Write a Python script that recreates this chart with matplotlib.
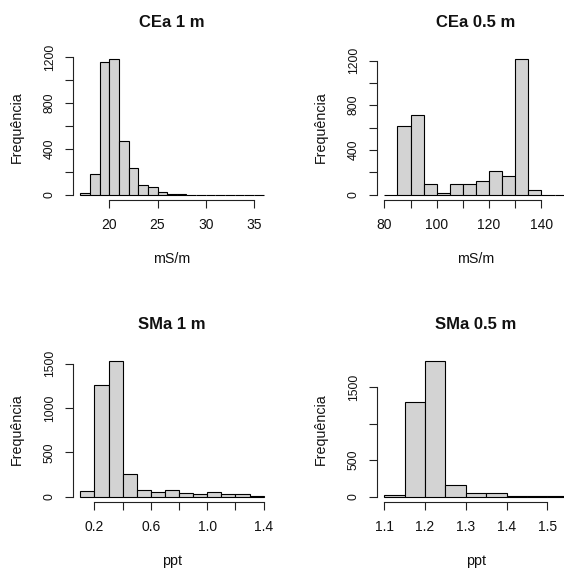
import matplotlib
matplotlib.use("Agg")
import matplotlib.pyplot as plt
from matplotlib.ticker import FixedLocator, FixedFormatter

plt.rcParams['font.family'] = ['Liberation Sans', 'DejaVu Sans']

# ---- data ----
titles = ["CEa 1 m", "CEa 0.5 m", "SMa 1 m", "SMa 0.5 m"]
xlabels = ["mS/m", "mS/m", "ppt", "ppt"]
ylabel = "Frequência"

breaks_cea1 = [17, 18, 19, 20, 21, 22, 23, 24, 25, 26, 27, 28, 29, 30, 31, 32, 33, 34, 35, 36]
counts_cea1 = [18, 180, 1160, 1180, 465, 229, 80, 62, 23, 8, 2, 0, 0, 0, 0, 0, 0, 0, 0]

breaks_cea05 = [80, 85, 90, 95, 100, 105, 110, 115, 120, 125, 130, 135, 140, 145, 150]
counts_cea05 = [0, 610, 715, 98, 12, 98, 98, 122, 214, 164, 1210, 42, 0, 0]

breaks_sma1 = [0.1, 0.2, 0.3, 0.4, 0.5, 0.6, 0.7, 0.8, 0.9, 1.0, 1.1, 1.2, 1.3, 1.4]
counts_sma1 = [65, 1255, 1525, 256, 79, 57, 72, 45, 30, 57, 34, 34, 11]

breaks_sma05 = [1.10, 1.15, 1.20, 1.25, 1.30, 1.35, 1.40, 1.45, 1.50, 1.55]
counts_sma05 = [18, 1302, 1855, 161, 46, 48, 14, 5, 2]

xticks = [[20, 25, 30, 35], [80, 90, 100, 110, 120, 130, 140],
          [0.2, 0.4, 0.6, 0.8, 1.0, 1.2, 1.4], [1.1, 1.2, 1.3, 1.4, 1.5]]
xticklabels = [["20", "25", "30", "35"], ["80", "", "100", "", "120", "", "140"],
               ["0.2", "", "0.6", "", "1.0", "", "1.4"], ["1.1", "1.2", "1.3", "1.4", "1.5"]]
yticks = [[0, 200, 400, 600, 800, 1000, 1200], [0, 200, 400, 600, 800, 1000, 1200],
          [0, 500, 1000, 1500], [0, 500, 1000, 1500]]
yticklabels = [["0", "", "400", "", "800", "", "1200"], ["0", "", "400", "", "800", "", "1200"],
               ["0", "500", "1000", "1500"], ["0", "500", "", "1500"]]

breaks = [breaks_cea1, breaks_cea05, breaks_sma1, breaks_sma05]
counts = [counts_cea1, counts_cea05, counts_sma1, counts_sma05]

# ---- layout (pixels) ----
W, H = 564, 569
fig = plt.figure(figsize=(W / 100, H / 100), dpi=100)
fig.patch.set_facecolor("white")

lefts = [73, 377, 73, 377]
tops = [54, 54, 356, 356]
aw, ah = 198, 146

for i in range(4):
    l, t = lefts[i], tops[i]
    ax = fig.add_axes([l / W, 1 - (t + ah) / H, aw / W, ah / H])
    b = breaks[i]
    c = counts[i]
    edges = b[:-1]
    widths = [b[k + 1] - b[k] for k in range(len(b) - 1)]
    ax.bar(edges, c, width=widths, align='edge', color='#D3D3D3',
           edgecolor='black', linewidth=0.8)
    lo, hi = b[0], b[-1]
    ax.set_xlim(lo - 0.04 * (hi - lo), hi + 0.04 * (hi - lo))
    m = max(c)
    ax.set_ylim(-0.04 * m, 1.04 * m)
    for s in ['top', 'right']:
        ax.spines[s].set_visible(False)
    ax.spines['left'].set_bounds(yticks[i][0], yticks[i][-1])
    ax.spines['bottom'].set_bounds(xticks[i][0], xticks[i][-1])
    for s in ['left', 'bottom']:
        ax.spines[s].set_linewidth(0.8)
        ax.spines[s].set_color('#222222')
    ax.xaxis.set_major_locator(FixedLocator(xticks[i]))
    ax.xaxis.set_major_formatter(FixedFormatter(xticklabels[i]))
    ax.yaxis.set_major_locator(FixedLocator(yticks[i]))
    ax.yaxis.set_major_formatter(FixedFormatter(yticklabels[i]))
    ax.tick_params(axis='x', direction='out', length=5.8, width=0.8, color='#222222',
                   labelsize=10, pad=7, labelcolor='#111111')
    ax.tick_params(axis='y', direction='out', length=5.8, width=0.8, color='#222222',
                   labelsize=8.8, pad=6.5, labelcolor='#111111', labelrotation=90)
    for lab in ax.get_yticklabels():
        lab.set_va('center')
    ax.patch.set_alpha(0)

    cx = l + aw / 2
    fig.text(cx / W, 1 - (t - 27) / H, titles[i], ha='center', va='baseline',
             fontsize=12, fontweight='bold', color='#111111')
    fig.text(cx / W, 1 - (t + 209) / H, xlabels[i], ha='center', va='baseline',
             fontsize=10.3, color='#111111')
    fig.text((l - 56) / W, 1 - (t + ah / 2) / H, ylabel, ha='center', va='center',
             rotation=90, fontsize=10.3, color='#111111')

fig.savefig("out.png", dpi=100, facecolor="white")
